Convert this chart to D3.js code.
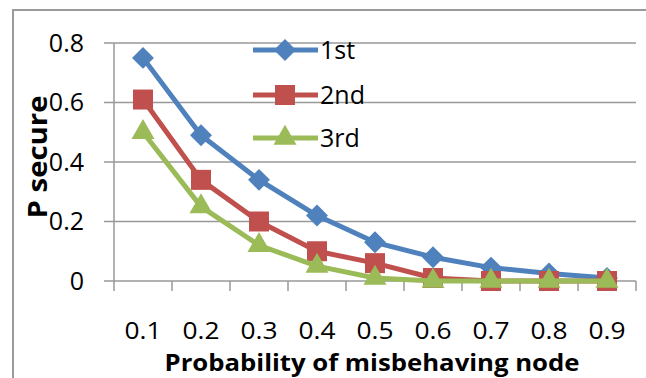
<!DOCTYPE html>
<html>
<head>
<meta charset="utf-8">
<script src="https://cdn.jsdelivr.net/npm/d3@7"></script>
<style>
  html, body { margin: 0; padding: 0; background: #fff; }
  svg { display: block; font-family: "Open Sans", Lato, sans-serif; }
</style>
</head>
<body>
<svg id="chart" width="646" height="378"></svg>
<script>
// Probability of misbehaving node on the x axis
const categories = ["0.1", "0.2", "0.3", "0.4", "0.5", "0.6", "0.7", "0.8", "0.9"];
// P secure for each series
const first  = [0.75, 0.49, 0.34, 0.22, 0.13, 0.08, 0.045, 0.025, 0.01];
const second = [0.61, 0.34, 0.20, 0.10, 0.06, 0.01, 0.0, 0.0, 0.0];
const third  = [0.50, 0.25, 0.12, 0.05, 0.01, 0.0, 0.0, 0.0, 0.0];
const seriesNames = ["1st", "2nd", "3rd"];
const yTicks = [0, 0.2, 0.4, 0.6, 0.8];

const colors = ["#4F81BD", "#C0504D", "#9BBB59"];
const symbols = [
  d3.symbol().type(d3.symbolSquare).size(240),   // rotated 45deg -> diamond
  d3.symbol().type(d3.symbolSquare).size(400),
  d3.symbol().type(d3.symbolTriangle).size(230)
];
const rotations = [45, 0, 0];
const seriesData = [first, second, third];

const svg = d3.select("#chart");

// outer frame
svg.append("path")
  .attr("d", "M13,378 L13,10 L646,10")
  .attr("fill", "none")
  .attr("stroke", "#9a9a9a")
  .attr("stroke-width", 2);

const plot = { left: 114, right: 636, top: 43, bottom: 281 };

const x = d3.scaleBand().domain(categories).range([plot.left, plot.right]);
const y = d3.scaleLinear().domain([0, 0.8]).range([plot.bottom, plot.top]);

// horizontal gridlines
svg.append("g")
  .selectAll("line")
  .data(yTicks)
  .join("line")
  .attr("x1", plot.left - 10)
  .attr("x2", plot.right)
  .attr("y1", d => y(d))
  .attr("y2", d => y(d))
  .attr("stroke", "#999")
  .attr("stroke-width", 1.5);

// y axis line
svg.append("line")
  .attr("x1", plot.left).attr("x2", plot.left)
  .attr("y1", plot.top).attr("y2", plot.bottom)
  .attr("stroke", "#999").attr("stroke-width", 1.5);

// x tick marks at category boundaries
const boundaries = categories.map(c => x(c)).concat([x(categories[categories.length - 1]) + x.bandwidth()]);
svg.append("g")
  .selectAll("line")
  .data(boundaries)
  .join("line")
  .attr("x1", d => d).attr("x2", d => d)
  .attr("y1", plot.bottom).attr("y2", plot.bottom + 10)
  .attr("stroke", "#999").attr("stroke-width", 1.5);

// y tick labels
svg.append("g")
  .selectAll("text")
  .data(yTicks)
  .join("text")
  .attr("x", 84)
  .attr("y", d => y(d))
  .attr("dy", "0.35em")
  .attr("text-anchor", "end")
  .attr("font-size", 25)
  .attr("fill", "#000")
  .text(d => d === 0 ? "0" : d3.format(".1f")(d));

// x tick labels
svg.append("g")
  .selectAll("text")
  .data(categories)
  .join("text")
  .attr("x", d => x(d) + x.bandwidth() / 2)
  .attr("y", 339)
  .attr("text-anchor", "middle")
  .attr("font-size", 24)
  .attr("fill", "#000")
  .attr("textLength", 37)
  .attr("lengthAdjust", "spacingAndGlyphs")
  .text(d => d);

// axis titles
svg.append("text")
  .attr("x", 372)
  .attr("y", 371)
  .attr("text-anchor", "middle")
  .attr("font-size", 24)
  .attr("font-weight", "bold")
  .attr("fill", "#000")
  .attr("textLength", 415)
  .attr("lengthAdjust", "spacingAndGlyphs")
  .text("Probability of misbehaving node");

svg.append("text")
  .attr("transform", "translate(47,157) rotate(-90)")
  .attr("text-anchor", "middle")
  .attr("font-size", 26)
  .attr("font-weight", "bold")
  .attr("fill", "#000")
  .attr("textLength", 123)
  .attr("lengthAdjust", "spacingAndGlyphs")
  .text("P secure");

// series: line then markers, in order
const line = d3.line()
  .x((d, i) => x(categories[i]) + x.bandwidth() / 2)
  .y(d => y(d));

seriesData.forEach((vals, s) => {
  const g = svg.append("g");
  g.append("path")
    .datum(vals)
    .attr("d", line)
    .attr("fill", "none")
    .attr("stroke", colors[s])
    .attr("stroke-width", 5)
    .attr("stroke-linejoin", "round");
  g.selectAll("path.m")
    .data(vals)
    .join("path")
    .attr("class", "m")
    .attr("d", symbols[s])
    .attr("transform", (d, i) =>
      `translate(${x(categories[i]) + x.bandwidth() / 2},${y(d)}) rotate(${rotations[s]})`)
    .attr("fill", colors[s]);
});

// legend
const legendRows = [50, 95, 138];
const legend = svg.append("g");
seriesNames.forEach((name, s) => {
  const ly = legendRows[s];
  legend.append("line")
    .attr("x1", 253).attr("x2", 318)
    .attr("y1", ly).attr("y2", ly)
    .attr("stroke", colors[s]).attr("stroke-width", 5);
  legend.append("path")
    .attr("d", symbols[s])
    .attr("transform", `translate(285,${ly}) rotate(${rotations[s]})`)
    .attr("fill", colors[s]);
  legend.append("text")
    .attr("x", 320)
    .attr("y", ly + 9)
    .attr("font-size", 25)
    .attr("fill", "#000")
    .text(name);
});
</script>
</body>
</html>
